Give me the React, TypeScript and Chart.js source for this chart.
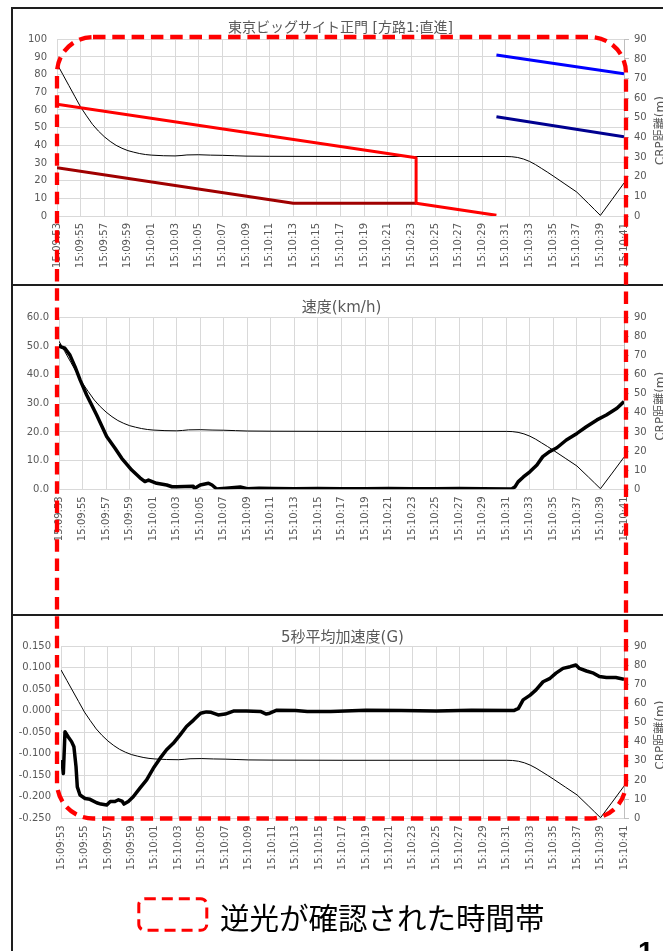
import React, { useEffect, useRef } from 'react';
import { Chart, registerables } from 'chart.js';
Chart.register(...registerables);

const SANS = "'DejaVu Sans', 'Noto Sans CJK JP', sans-serif";
const TICK_COLOR = '#595959';
const GRID_COLOR = '#d9d9d9';
const AXIS_COLOR = '#bfbfbf';

const TITLE_1 = '東京ビッグサイト正門 [方路1:直進]';
const TITLE_2 = '速度(km/h)';
const TITLE_3 = '5秒平均加速度(G)';
const CRP_TITLE = 'CRP距離(m)';
const LEGEND_TEXT = '逆光が確認された時間帯';
const PAGE_NO = '1';

// time axis: seconds after 15:09:53, ticks every 2 s up to 15:10:41
const START_CLOCK = '15:09:53';
const X_MIN = 0;
const X_MAX = 48;
const X_STEP = 2;

// CRP distance (m), right axis, shared by all three panels
const crpT = [0, 0.5, 1, 1.5, 2, 2.5, 3, 3.5, 4, 4.5, 5, 5.5, 6, 6.5, 7, 7.5, 8, 9, 10, 10.5, 11, 12, 13, 14, 15, 16, 18, 24, 30, 38, 38.5, 39, 39.5, 40, 40.5, 41, 41.5, 42, 43, 44, 45, 45.5, 46, 47, 48];
const crpV = [77.5, 72, 66.5, 61, 55.5, 51, 46.7, 43.3, 40.4, 38, 36, 34.5, 33.3, 32.5, 31.8, 31.3, 31.0, 30.7, 30.6, 30.8, 31.1, 31.2, 31.0, 30.9, 30.7, 30.5, 30.4, 30.3, 30.3, 30.3, 30.2, 29.8, 29.0, 27.8, 26.2, 24.3, 22.4, 20.4, 16.3, 12.2, 6.3, 3.3, 0.3, 8.5, 16.8];

// panel 1 lines (left axis 0-100)
const redT = [0, 30.4, 30.4, 37.2];
const redV = [63.2, 33, 7.2, 0.4];
const darkRedT = [0, 20, 30.4];
const darkRedV = [27.3, 7.2, 7.2];
const blueT = [37.2, 48];
const blueV = [91.1, 80.5];
const navyT = [37.2, 48];
const navyV = [56.2, 44.9];

// panel 2 speed (km/h)
const speedT = [0, 0.1, 0.5, 0.93, 1.36, 1.8, 2.35, 3.2, 4.05, 4.76, 5.33, 6.18, 6.88, 7.3, 7.6, 8.3, 9.15, 9.6, 10, 11.4, 11.5, 12, 12.7, 13.0, 13.4, 14.2, 15.4, 16, 17, 18.2, 20, 22, 24, 26, 28, 30, 32, 34, 36, 38.46, 38.75, 39.0, 39.45, 40.0, 40.6, 41.1, 41.7, 42.3, 43.1, 44, 44.8, 45.7, 46.5, 47.4, 48];
const speedV = [50.6, 49.8, 49.2, 46.8, 42.8, 38.1, 32.9, 25.9, 18.4, 14.3, 10.8, 6.7, 4.0, 2.7, 3.2, 2.1, 1.5, 0.9, 0.9, 1.1, 0.3, 1.5, 2.1, 1.5, 0.1, 0.4, 0.8, 0.2, 0.4, 0.3, 0.2, 0.3, 0.2, 0.2, 0.3, 0.2, 0.2, 0.3, 0.2, 0.1, 0.9, 2.6, 4.3, 6.1, 8.5, 11.4, 13.2, 14.5, 17.2, 19.5, 21.8, 24.2, 25.9, 28.3, 30.6];

// panel 3 5-second mean acceleration (G)
const accT = [0, 0.1, 0.2, 0.34, 0.62, 0.9, 1.1, 1.28, 1.39, 1.62, 2.05, 2.47, 3.04, 3.4, 3.9, 4.2, 4.6, 4.9, 5.2, 5.37, 5.74, 6.16, 6.73, 7.3, 7.87, 8.44, 9.0, 9.57, 10.14, 10.7, 11.3, 11.9, 12.4, 12.8, 13.4, 14, 14.7, 15.8, 17, 17.5, 17.8, 18.4, 20, 21, 23, 26, 29, 32, 35, 38.6, 39.0, 39.4, 40, 40.5, 41.1, 41.7, 42.2, 42.8, 43.4, 43.9, 44.2, 44.8, 45.4, 45.9, 46.5, 47.3, 48];
const accV = [-0.115, -0.12, -0.146, -0.049, -0.061, -0.072, -0.084, -0.130, -0.177, -0.196, -0.204, -0.206, -0.214, -0.217, -0.219, -0.211, -0.211, -0.207, -0.210, -0.217, -0.211, -0.200, -0.180, -0.161, -0.134, -0.111, -0.091, -0.076, -0.057, -0.037, -0.022, -0.006, -0.003, -0.004, -0.010, -0.008, -0.001, -0.001, -0.002, -0.008, -0.006, 0.001, 0.0, -0.002, -0.002, 0.001, 0.0, -0.001, 0.001, 0.0, 0.005, 0.025, 0.036, 0.048, 0.067, 0.075, 0.087, 0.098, 0.102, 0.106, 0.098, 0.092, 0.087, 0.079, 0.077, 0.077, 0.073];

// axis ranges
const p1Left = { min: 0, max: 100, step: 10, decimals: 0 };
const p2Left = { min: 0, max: 60, step: 10, decimals: 1 };
const p3Left = { min: -0.25, max: 0.15, step: 0.05, decimals: 3 };
const rightAxis = { min: 0, max: 90, step: 10 };

const pts = (t: number[], v: number[]) => t.map((x, i) => ({ x, y: v[i] }));

const clockLabel = (v: number) => {
  const [h, m, s] = START_CLOCK.split(':').map(Number);
  const total = h * 3600 + m * 60 + s + Math.round(v);
  const hh = Math.floor(total / 3600);
  const mm = Math.floor((total % 3600) / 60);
  const ss = total % 60;
  const p = (n: number) => String(n).padStart(2, '0');
  return `${hh}:${p(mm)}:${p(ss)}`;
};

type PanelSpec = {
  title: string;
  titleSize: number;
  titlePadTop: number;
  titlePadBottom: number;
  width: number;
  height: number;
  leftW: number;
  rightW: number;
  xH: number;
  left: { min: number; max: number; step: number; decimals: number };
  datasets: any[];
};

const line = (data: any[], color: string, width: number, axis = 'y') => ({
  data,
  borderColor: color,
  backgroundColor: color,
  borderWidth: width,
  pointRadius: 0,
  fill: false,
  tension: 0,
  borderJoinStyle: 'round',
  borderCapStyle: 'butt',
  yAxisID: axis,
});

const crpTitlePlugin = {
  id: 'crpTitle',
  afterDraw(chart: any) {
    const { ctx, chartArea } = chart;
    ctx.save();
    ctx.fillStyle = TICK_COLOR;
    ctx.font = `12px ${SANS}`;
    ctx.translate(chart.width - 2, (chartArea.top + chartArea.bottom) / 2 + 3);
    ctx.rotate(-Math.PI / 2);
    ctx.textAlign = 'center';
    ctx.textBaseline = 'middle';
    ctx.fillText(CRP_TITLE, 0, 0);
    ctx.restore();
  },
};

function buildConfig(spec: PanelSpec): any {
  const tickFont = { family: SANS, size: 10 };
  return {
    type: 'line',
    data: { datasets: spec.datasets },
    plugins: [crpTitlePlugin],
    options: {
      animation: false,
      responsive: false,
      events: [],
      layout: { padding: 0 },
      plugins: {
        legend: { display: false },
        tooltip: { enabled: false },
        title: {
          display: true,
          text: spec.title,
          color: TICK_COLOR,
          fullSize: false,
          font: { family: SANS, size: spec.titleSize, weight: 'normal', lineHeight: 1 },
          padding: { top: spec.titlePadTop, bottom: spec.titlePadBottom },
        },
      },
      scales: {
        x: {
          type: 'linear',
          min: X_MIN,
          max: X_MAX,
          offset: false,
          grid: { color: GRID_COLOR, drawTicks: false },
          border: { color: GRID_COLOR },
          ticks: {
            stepSize: X_STEP,
            autoSkip: false,
            minRotation: 90,
            maxRotation: 90,
            padding: 7,
            color: TICK_COLOR,
            font: tickFont,
            callback: (v: number) => clockLabel(v),
          },
          afterFit: (s: any) => { s.height = spec.xH; },
        },
        y: {
          position: 'left',
          min: spec.left.min,
          max: spec.left.max,
          grid: { color: GRID_COLOR, drawTicks: false },
          border: { display: false },
          ticks: {
            stepSize: spec.left.step,
            padding: 10,
            color: TICK_COLOR,
            font: tickFont,
            callback: (v: number) => (Math.abs(v) < 1e-9 ? 0 : v).toFixed(spec.left.decimals),
          },
          afterFit: (s: any) => { s.width = spec.leftW; },
        },
        y1: {
          position: 'right',
          min: rightAxis.min,
          max: rightAxis.max,
          grid: { drawOnChartArea: false, drawTicks: true, tickLength: 5, color: AXIS_COLOR },
          border: { display: true, color: AXIS_COLOR },
          ticks: {
            stepSize: rightAxis.step,
            padding: 5,
            color: TICK_COLOR,
            font: tickFont,
          },
          afterFit: (s: any) => { s.width = spec.rightW; },
        },
      },
    },
  };
}

function Panel({ spec, top }: { spec: PanelSpec; top: number }) {
  const ref = useRef<HTMLCanvasElement | null>(null);
  useEffect(() => {
    if (!ref.current) return;
    const chart = new Chart(ref.current, buildConfig(spec));
    return () => chart.destroy();
  }, []);
  return (
    <canvas
      ref={ref}
      width={spec.width}
      height={spec.height}
      style={{ position: 'absolute', left: 11, top, width: spec.width, height: spec.height, display: 'block' }}
    />
  );
}

const crpData = () => line(pts(crpT, crpV), '#000000', 1, 'y1');

const panel1: PanelSpec = {
  title: TITLE_1, titleSize: 14, titlePadTop: 14, titlePadBottom: 4.3,
  width: 652, height: 279, leftW: 46, rightW: 39, xH: 70,
  left: p1Left,
  datasets: [
    line(pts(blueT, blueV), '#0000ff', 3),
    line(pts(navyT, navyV), '#000090', 3),
    line(pts(redT, redV), '#ff0000', 3),
    line(pts(darkRedT, darkRedV), '#a00000', 3),
    crpData(),
  ],
};

const panel2: PanelSpec = {
  title: TITLE_2, titleSize: 15, titlePadTop: 14.5, titlePadBottom: 1.8,
  width: 652, height: 328, leftW: 48, rightW: 39, xH: 124.7,
  left: p2Left,
  datasets: [line(pts(speedT, speedV), '#000000', 3.5), crpData()],
};

const panel3: PanelSpec = {
  title: TITLE_3, titleSize: 15, titlePadTop: 16.8, titlePadBottom: 0.2,
  width: 652, height: 337, leftW: 50, rightW: 39, xH: 132.7,
  left: p3Left,
  datasets: [line(pts(accT, accV), '#000000', 3.5), crpData()],
};

const bar = (left: number, top: number, width: number, height: number) => (
  <div style={{ position: 'absolute', left, top, width, height, background: '#1e1e1e' }} />
);

export default function App() {
  return (
    <div style={{ position: 'absolute', left: 0, top: 0, width: 663, height: 951, overflow: 'hidden', background: '#ffffff' }}>
      <Panel spec={panel1} top={7} />
      <Panel spec={panel2} top={286} />
      <Panel spec={panel3} top={614} />
      {bar(11, 7, 652, 2)}
      {bar(11, 284, 652, 2)}
      {bar(11, 614, 652, 2)}
      {bar(11, 7, 2, 944)}
      <svg width={663} height={951} style={{ position: 'absolute', left: 0, top: 0, pointerEvents: 'none' }}>
        <rect x={57} y={37} width={569} height={781.5} rx={36} ry={36} fill="none" stroke="#ff0000" strokeWidth={4.3} strokeDasharray="12.5 6.8" />
        <rect x={138.8} y={898.8} width={68} height={31.4} rx={6} ry={6} fill="none" stroke="#ff0000" strokeWidth={3} strokeDasharray="11 6" />
      </svg>
      <div style={{ position: 'absolute', left: 220, top: 901.7, fontSize: 29.5, lineHeight: '29.5px', fontFamily: "'Noto Sans CJK JP', sans-serif", color: '#000', whiteSpace: 'nowrap' }}>
        {LEGEND_TEXT}
      </div>
      <div style={{ position: 'absolute', left: 638, top: 938, fontSize: 28, lineHeight: '28px', fontWeight: 'bold', fontFamily: "'Liberation Sans', sans-serif", color: '#000' }}>
        {PAGE_NO}
      </div>
    </div>
  );
}
